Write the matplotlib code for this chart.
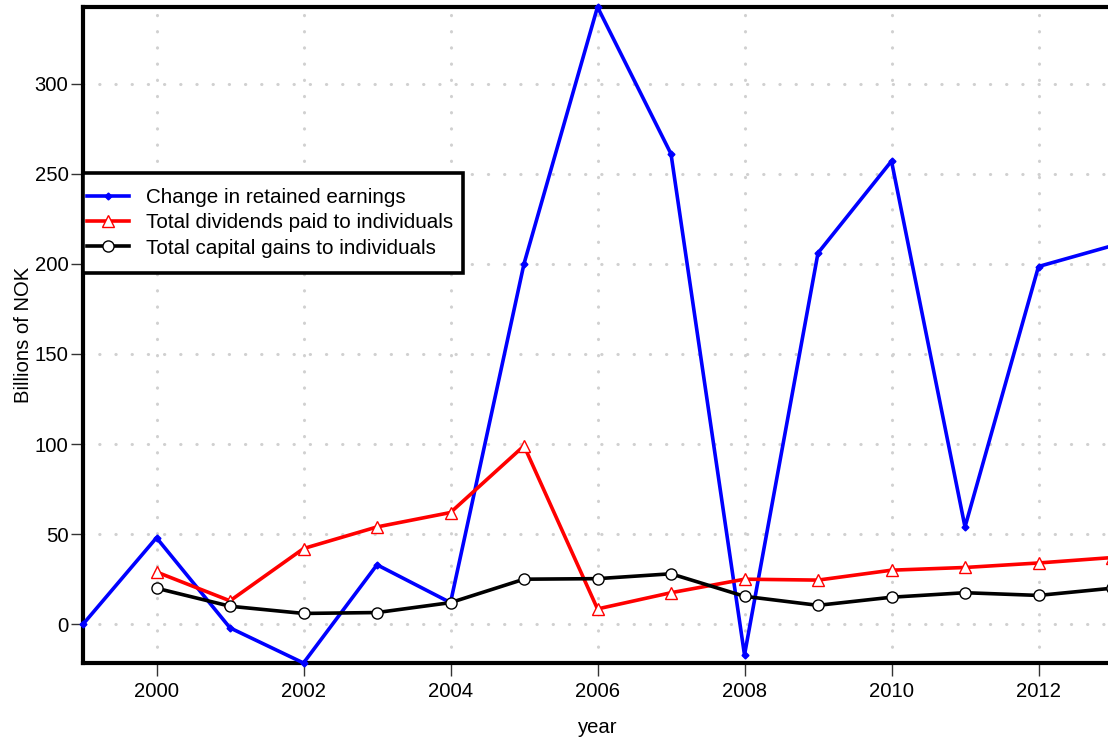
import matplotlib
matplotlib.use("Agg")
import matplotlib.pyplot as plt
from matplotlib.patches import Rectangle

plt.rcParams['font.family'] = ['Liberation Sans', 'DejaVu Sans']

years_blue = [1999, 2000, 2001, 2002, 2003, 2004, 2005, 2006, 2007, 2008, 2009, 2010, 2011, 2012, 2013]
retained = [0, 48, -2, -21.5, 33, 12, 200, 342.5, 261, -17, 206, 257, 54, 198.5, 210]

years = [2000, 2001, 2002, 2003, 2004, 2005, 2006, 2007, 2008, 2009, 2010, 2011, 2012, 2013]
dividends = [29, 13, 42, 54, 62, 99, 8.5, 17.5, 25, 24.5, 30, 31.5, 34, 37]
capgains = [20, 10, 6, 6.5, 12, 25, 25.3, 28, 15.5, 10.5, 15, 17.5, 16, 20]

xticks = [2000, 2002, 2004, 2006, 2008, 2010, 2012]
yticks = [0, 50, 100, 150, 200, 250, 300]

fig = plt.figure(figsize=(11.08, 7.42), dpi=100)
ax_w = (1112 - 83) / 1108
ax_h = (663 - 7) / 742
ax = fig.add_axes([83/1108, (742-663)/742, ax_w, ax_h])

ax.set_xlim(1999, 2013)
ax.set_ylim(-21.5, 342.5)
ax.set_xticks(xticks)
ax.set_yticks(yticks)

ax.grid(True, color='#d0d0d0', linestyle=(0, (0.1, 5.2)), linewidth=2.2, dash_capstyle='round')
ax.set_axisbelow(True)

ax.plot(years_blue, retained, color='#0000ff', lw=2.6, marker='D', ms=3.5,
        mfc='#0000ff', mec='#0000ff', label='Change in retained earnings', clip_on=False, zorder=3)
ax.plot(years, dividends, color='#ff0000', lw=2.6, marker='^', ms=9,
        mfc='white', mec='#ff0000', mew=1.0, label='Total dividends paid to individuals', zorder=3)
ax.plot(years, capgains, color='black', lw=2.6, marker='o', ms=8,
        mfc='white', mec='black', mew=1.0, label='Total capital gains to individuals', zorder=3)

for s in ax.spines.values():
    s.set_linewidth(3)
    s.set_color('black')

ax.tick_params(direction='out', length=9, width=1, color='#333333', labelsize=14.6)
ax.tick_params(axis='x', pad=5)
ax.tick_params(axis='y', pad=1.5)
ax.set_xlabel('year', fontsize=14.6, labelpad=12)
ax.set_ylabel('Billions of NOK', fontsize=14.6, labelpad=1)

# legend box (frame drawn separately to match the asymmetric padding)
box_x0 = 0.0
box_x1 = (463 - 83) / 1029
box_y0 = (663 - 273) / 656
box_y1 = (663 - 173) / 656
ax.add_patch(Rectangle((box_x0, box_y0), box_x1 - box_x0, box_y1 - box_y0,
                       transform=ax.transAxes, facecolor='white', edgecolor='black',
                       linewidth=2.6, zorder=4.5, clip_on=False))

leg = ax.legend(loc='center left', bbox_to_anchor=(0, (box_y0 + box_y1) / 2), borderaxespad=0,
                fontsize=14.9, frameon=False, handlelength=2.0,
                labelspacing=0.3, borderpad=0.2, handletextpad=0.85)
leg.set_zorder(5)

fig.savefig('out.png', dpi=100)
